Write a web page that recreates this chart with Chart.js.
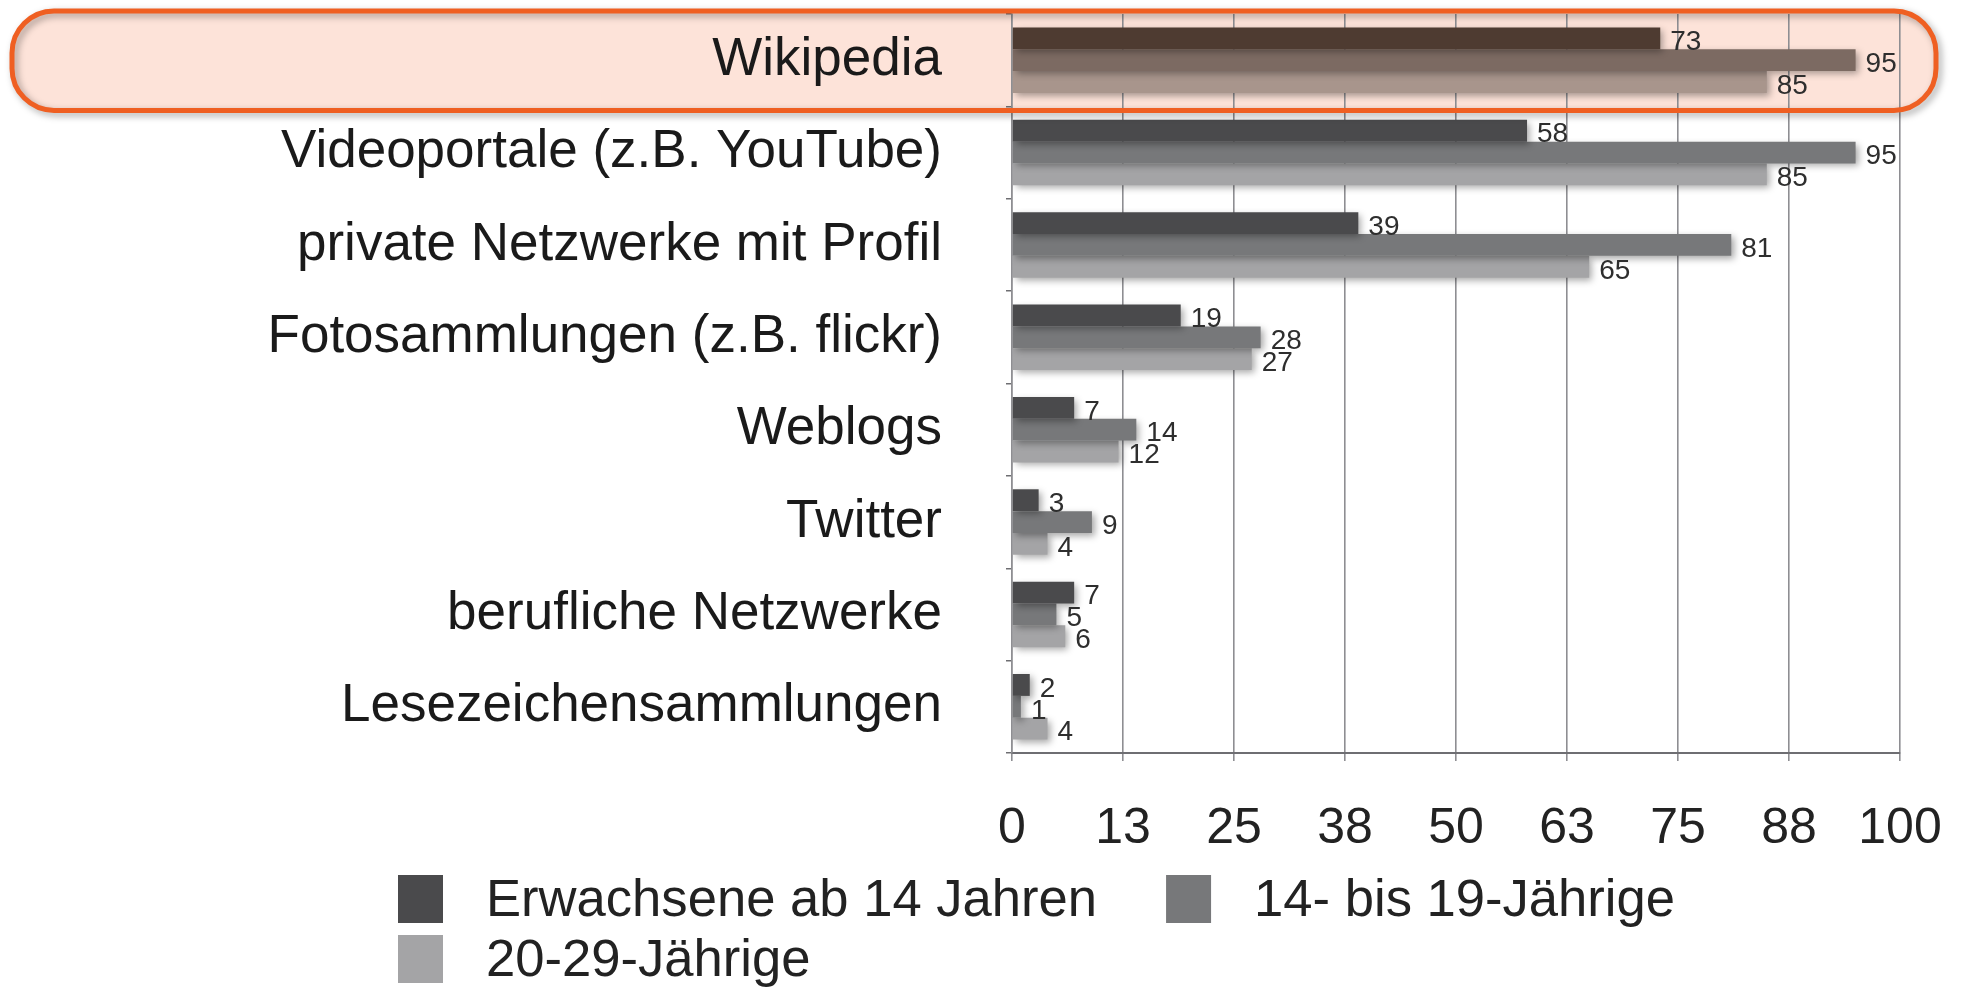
<!DOCTYPE html>
<html lang="de">
<head>
<meta charset="utf-8">
<title>Nutzung von Web-2.0-Angeboten</title>
<script src="https://cdn.jsdelivr.net/npm/chart.js@4.4.1/dist/chart.umd.min.js"></script>
<style>
  html, body { margin: 0; padding: 0; background: #fff; }
  #wrap { position: relative; width: 1964px; height: 987px; }
</style>
</head>
<body>
<div id="wrap"><canvas id="myChart"></canvas></div>
<script>
const categories = [
    'Wikipedia',
    'Videoportale (z.B. YouTube)',
    'private Netzwerke mit Profil',
    'Fotosammlungen (z.B. flickr)',
    'Weblogs',
    'Twitter',
    'berufliche Netzwerke',
    'Lesezeichensammlungen'
];
const seriesNames = ['Erwachsene ab 14 Jahren', '14- bis 19-Jährige', '20-29-Jährige'];
const erwachsene = [73, 58, 39, 19, 7, 3, 7, 2];
const jugendliche = [95, 95, 81, 28, 14, 9, 5, 1];
const zwanziger = [85, 85, 65, 27, 12, 4, 6, 4];
const xTickLabels = ['0', '13', '25', '38', '50', '63', '75', '88', '100'];

const FONT = "'Liberation Sans', Arial, Helvetica, sans-serif";
const highlightRow = 0;

// grey bars, brownish where the orange marker lies over the row
const barColors = [
    { normal: '#4a4a4c', marked: '#4e3b31' },
    { normal: '#77787a', marked: '#7c6a62' },
    { normal: '#a4a4a6', marked: '#a8958c' }
];
const legendColors = ['#4a4a4c', '#77787a', '#a4a4a6'];

function rowColors(c) {
    return categories.map((_, i) => i === highlightRow ? c.marked : c.normal);
}

function roundedRect(ctx, x, y, w, h, r) {
    ctx.beginPath();
    ctx.moveTo(x + r, y);
    ctx.lineTo(x + w - r, y);
    ctx.arcTo(x + w, y, x + w, y + r, r);
    ctx.lineTo(x + w, y + h - r);
    ctx.arcTo(x + w, y + h, x + w - r, y + h, r);
    ctx.lineTo(x + r, y + h);
    ctx.arcTo(x, y + h, x, y + h - r, r);
    ctx.lineTo(x, y + r);
    ctx.arcTo(x, y, x + r, y, r);
    ctx.closePath();
}

function markerBox(chart) {
    const y = chart.scales.y;
    const half = (y.getPixelForValue(1) - y.getPixelForValue(0)) / 2;
    const top = chart.chartArea.top - 3;
    const bottom = y.getPixelForValue(highlightRow) + half + 4;
    return { x: 12, y: top, w: chart.width - 40, h: bottom - top };
}

const barShadow = {
    id: 'barShadow',
    beforeDatasetsDraw(chart) {
        const ctx = chart.ctx;
        ctx.save();
        ctx.shadowColor = 'rgba(0,0,0,0.35)';
        ctx.shadowBlur = 7;
        ctx.shadowOffsetX = 3;
        ctx.shadowOffsetY = 3;
    },
    afterDatasetsDraw(chart) {
        chart.ctx.restore();
    }
};

const valueLabels = {
    id: 'valueLabels',
    afterDatasetsDraw(chart) {
        const ctx = chart.ctx;
        ctx.save();
        ctx.font = '28px ' + FONT;
        ctx.fillStyle = '#2e2e2e';
        ctx.textAlign = 'left';
        ctx.textBaseline = 'middle';
        chart.data.datasets.forEach((ds, i) => {
            chart.getDatasetMeta(i).data.forEach((bar, j) => {
                ctx.fillText(ds.data[j], bar.x + 10, bar.y + 4);
            });
        });
        ctx.restore();
    }
};

const marker = {
    id: 'marker',
    beforeDraw(chart) {
        const b = markerBox(chart);
        const ctx = chart.ctx;
        ctx.save();
        roundedRect(ctx, b.x, b.y, b.w, b.h, 42);
        ctx.fillStyle = '#fde3d9';
        ctx.fill();
        ctx.restore();
    },
    afterDatasetsDraw(chart) {
        const b = markerBox(chart);
        const ctx = chart.ctx;
        ctx.save();
        roundedRect(ctx, b.x, b.y, b.w, b.h, 42);
        ctx.lineWidth = 5;
        ctx.strokeStyle = '#ef5f22';
        ctx.stroke();
        ctx.restore();
    }
};

const bottomLegend = {
    id: 'bottomLegend',
    afterDraw(chart) {
        const ctx = chart.ctx;
        const rows = [[0, 1], [2]];
        const rowY = [chart.height - 88, chart.height - 28];
        ctx.save();
        ctx.font = '52.6px ' + FONT;
        ctx.textBaseline = 'middle';
        ctx.textAlign = 'left';
        rows.forEach((row, r) => {
            let x = 398;
            row.forEach(i => {
                const cy = rowY[r];
                ctx.fillStyle = legendColors[i];
                ctx.fillRect(x, cy - 24, 45, 48);
                ctx.fillStyle = '#222';
                ctx.fillText(chart.data.datasets[i].label, x + 88, cy + 2);
                x += 88 + ctx.measureText(chart.data.datasets[i].label).width + 69;
            });
        });
        ctx.restore();
    }
};

new Chart(document.getElementById('myChart'), {
    type: 'bar',
    data: {
        labels: categories,
        datasets: [
            { label: seriesNames[0], data: erwachsene, backgroundColor: rowColors(barColors[0]) },
            { label: seriesNames[1], data: jugendliche, backgroundColor: rowColors(barColors[1]) },
            { label: seriesNames[2], data: zwanziger, backgroundColor: rowColors(barColors[2]) }
        ]
    },
    plugins: [marker, barShadow, valueLabels, bottomLegend],
    options: {
        indexAxis: 'y',
        responsive: true,
        maintainAspectRatio: false,
        animation: false,
        datasets: {
            bar: { categoryPercentage: 0.71, barPercentage: 1.0, borderWidth: 0 }
        },
        layout: { padding: { top: 14, right: 64, bottom: 0, left: 0 } },
        plugins: {
            legend: { display: false },
            tooltip: { enabled: false }
        },
        scales: {
            x: {
                position: 'bottom',
                min: 0,
                max: 100,
                afterFit(scale) {
                    scale.height = 234;
                    scale.paddingLeft = 0;
                    scale.paddingRight = 0;
                },
                ticks: {
                    stepSize: 12.5,
                    autoSkip: false,
                    maxRotation: 0,
                    padding: 38,
                    color: '#222',
                    font: { family: FONT, size: 50 },
                    callback: (v, i) => xTickLabels[i]
                },
                grid: { color: '#8e8e92', lineWidth: 1.6, tickLength: 8 },
                border: { color: '#6e6e72', width: 2 }
            },
            y: {
                afterFit(scale) {
                    scale.width = 1012;
                    scale.paddingTop = 0;
                    scale.paddingBottom = 0;
                },
                ticks: {
                    padding: 64,
                    color: '#1a1a1a',
                    font: { family: FONT, size: 53 }
                },
                grid: { drawOnChartArea: false, color: '#6e6e72', tickLength: 6, lineWidth: 1.5 },
                border: { color: '#8e8e92', width: 1.5 }
            }
        }
    }
});
</script>
</body>
</html>
